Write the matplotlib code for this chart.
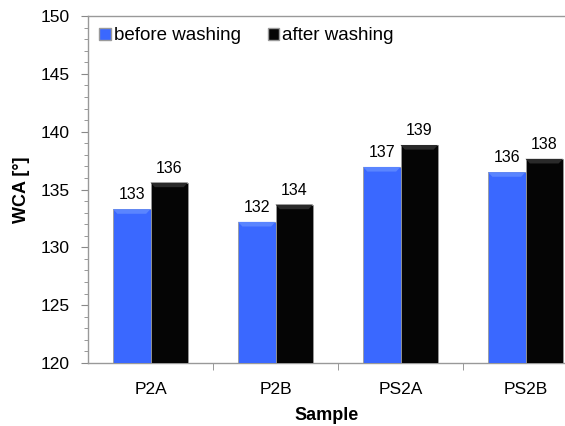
import numpy as np
import matplotlib
matplotlib.use("Agg")
import matplotlib.pyplot as plt
from matplotlib.ticker import MultipleLocator, FixedLocator
from matplotlib.patches import Patch

plt.rcParams["font.family"] = ["Liberation Sans", "DejaVu Sans"]

# data
samples = ["P2A", "P2B", "PS2A", "PS2B"]
before_washing = [133.3, 132.2, 136.95, 136.5]
after_washing = [135.6, 133.7, 138.85, 137.65]
series_labels = ["before washing", "after washing"]

blue = "#3A68FF"
black = "#050505"

fig = plt.figure(figsize=(5.65, 4.26), dpi=100)
ax = fig.add_axes([88 / 565, 63 / 426, 477 / 565, 347 / 426])

x = np.arange(len(samples))
w = 0.3

ax.bar(x - w / 2, before_washing, w, color=blue,
       edgecolor="#9a9a9a", linewidth=0.6, zorder=3)
ax.bar(x + w / 2, after_washing, w, color=black,
       edgecolor="#9a9a9a", linewidth=0.6, zorder=3)

# soft bevel at the top of each bar
for xs, vals, col in [(x - w / 2, before_washing, "#5a85ff"),
                      (x + w / 2, after_washing, "#2a2a2a")]:
    for xi, v in zip(xs, vals):
        ax.fill([xi - w / 2, xi + w / 2, xi + w / 2 - 0.035, xi - w / 2 + 0.035],
                [v, v, v - 0.4, v - 0.4], color=col, zorder=4, lw=0)

for xs, vals in [(x - w / 2, before_washing), (x + w / 2, after_washing)]:
    for xi, v in zip(xs, vals):
        ax.text(xi, v + 0.6, f"{v:.0f}", ha="center", va="bottom", fontsize=11.5)

ax.set_ylim(120, 150)
ax.set_xlim(-0.5, 3.316)
ax.yaxis.set_major_locator(MultipleLocator(5))
ax.yaxis.set_minor_locator(MultipleLocator(1))
ax.set_xticks(x)
ax.set_xticklabels(samples, fontsize=12.5)
ax.xaxis.set_minor_locator(FixedLocator([0.5, 1.5, 2.5]))
ax.tick_params(axis="x", which="major", length=0, pad=14)
ax.tick_params(axis="x", which="minor", length=5, color="#888888", direction="out")
ax.tick_params(axis="y", which="major", length=5, color="#888888", labelsize=12.5, pad=8)
ax.tick_params(axis="y", which="minor", length=3, color="#888888")

for s in ["left", "bottom", "top"]:
    ax.spines[s].set_color("#999999")
    ax.spines[s].set_linewidth(1.0)
ax.spines["right"].set_visible(False)

ax.set_xlabel("Sample", fontsize=13, fontweight="bold", labelpad=7)
ax.set_ylabel("WCA [°]", fontsize=13, fontweight="bold", labelpad=8)

handles = [Patch(facecolor=blue, edgecolor="#9a9a9a"),
           Patch(facecolor=black, edgecolor="#9a9a9a")]
ax.legend(handles, series_labels, loc="upper left", ncol=2, frameon=False,
          fontsize=13.5, handlelength=0.6, handleheight=0.6, handletextpad=0.2,
          columnspacing=1.4, borderaxespad=0.2, bbox_to_anchor=(0.0, 1.0))

fig.savefig("out.png", dpi=100)
